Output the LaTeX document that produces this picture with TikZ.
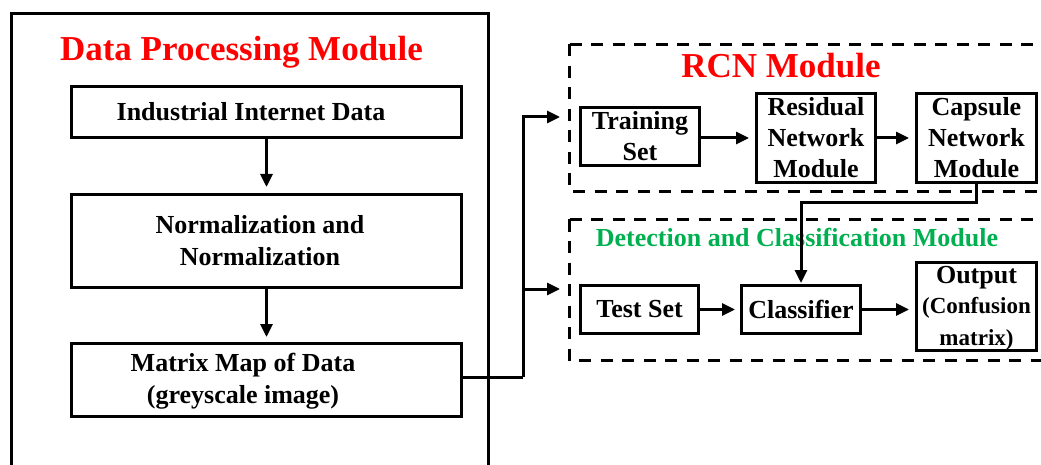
\documentclass[tikz,border=0pt]{standalone}
\usepackage{fontspec}
\setmainfont{Liberation Serif}
\usetikzlibrary{arrows.meta}
\definecolor{titlered}{RGB}{255,0,0}
\definecolor{modgreen}{RGB}{0,176,80}
\begin{document}
\begin{tikzpicture}[x=1pt,y=-1pt,
  box/.style={draw, line width=3pt, inner sep=0pt, align=center,
    font=\bfseries\fontsize{26}{31}\selectfont},
  lbl/.style={inner sep=0pt, align=center,
    font=\bfseries\fontsize{26}{32}\selectfont},
  bigtitle/.style={inner sep=0pt, anchor=base, text=titlered,
    font=\bfseries\fontsize{35}{42}\selectfont},
  conn/.style={line width=3pt},
  arr/.style={conn, -{Triangle[length=13pt,width=12pt]}, shorten >=6pt},
  grp/.style={line width=3pt, dash pattern=on 12pt off 9.5pt},
]
\useasboundingbox (0,0) rectangle (1041,465);
\clip (0,0) rectangle (1041,465);

% data processing frame (runs past the lower edge)
\draw[conn] (11.5,500) -- (11.5,13.5) -- (488.5,13.5) -- (488.5,500);
\node[bigtitle] (dpmT) at (241.5,61) {Data Processing Module};

\node[box, minimum width=390pt, minimum height=51pt] (ind) at (266.5,112) {};
\node[lbl] (indT) at (251,112) {Industrial Internet Data};

\node[box, minimum width=390pt, minimum height=93pt] (norm) at (266.5,241) {};
\node[lbl] (normT) at (260,241) {Normalization and\\Normalization};

\node[box, minimum width=390pt, minimum height=73pt] (mat) at (266.5,380) {};
\node[lbl] (matT) at (243,381) {Matrix Map of Data\\(greyscale image)};

\draw[arr] (ind.south) -- (norm.north);
\draw[arr, shorten >=5pt] (norm.south) -- (mat.north);

% RCN group (open to the right)
\draw[grp] (569.5,44.5) -- (1080,44.5);
\draw[grp] (569.5,44.5) -- (569.5,191.5) -- (1080,191.5);
\node[bigtitle] (rcnT) at (781,78) {RCN Module};

\node[box, minimum width=119pt, minimum height=58pt] (train) at (640,136.5) {Training\\Set};
\node[box, minimum width=119pt, minimum height=89pt] (resid) at (816,138) {Residual\\Network\\Module};
\node[box, minimum width=120pt, minimum height=89pt] (caps) at (976.5,138) {Capsule\\Network\\Module};

\draw[arr] (train.east |- resid.west) -- (resid.west);
\draw[arr] (resid.east) -- (caps.west);

% detection and classification group
\draw[grp] (569.5,219.5) -- (1080,219.5);
\draw[grp] (569.5,219.5) -- (569.5,360.5) -- (1080,360.5);
\node[inner sep=0pt, anchor=base, text=modgreen,
  font=\bfseries\fontsize{26}{31}\selectfont] (detT) at (797,247)
  {Detection and Classification Module};

\node[box, minimum width=118pt, minimum height=48pt] (test) at (639.5,309.5) {Test Set};
\node[box, minimum width=119pt, minimum height=48pt] (clf) at (801,309.5) {Classifier};
\node[box, minimum width=120pt, minimum height=88pt] (out) at (976.5,306.5) {};
\node[lbl] (outT) at (976.5,308.5)
  {Output\\[-2pt]\fontsize{23}{27}\selectfont(Confusion\\\fontsize{23}{27}\selectfont matrix)};

\draw[arr, shorten >=5pt] (test.east) -- (clf.west);
\draw[arr] (clf.east) -- (clf.east -| out.west);

% feeding the two groups from the matrix map
\coordinate (sp) at (523,377);
\coordinate (rin) at (560,117);
\coordinate (din) at (560,289);
\draw[conn] (mat.east |- sp) -- (sp);
\draw[arr, shorten >=0pt] (sp) |- (rin);
\draw[arr, shorten >=0pt] (sp) |- (din);

% capsule output to the classifier
\draw[arr, shorten >=1pt] (caps.south) -- ++(0,19) -| (clf.north);
\end{tikzpicture}
\end{document}
